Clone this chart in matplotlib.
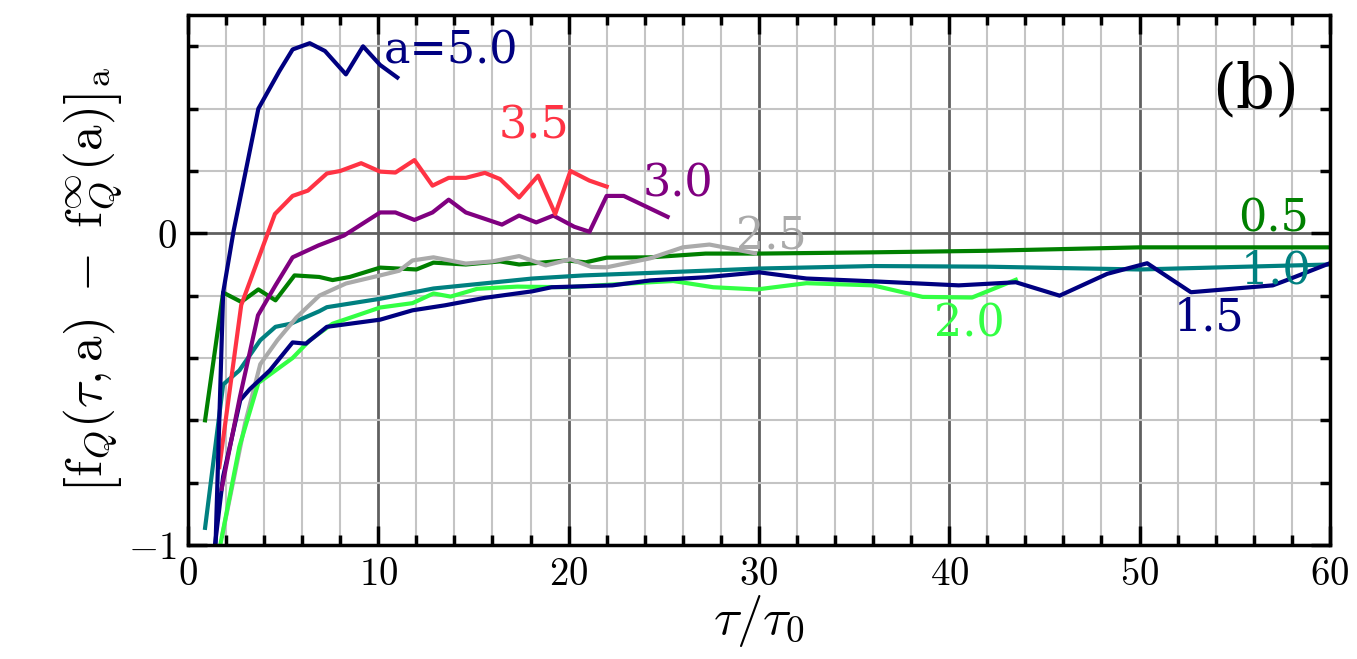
import matplotlib
matplotlib.use("Agg")
import matplotlib.pyplot as plt
from matplotlib.ticker import MultipleLocator

plt.rcParams['font.family'] = ['DejaVu Serif']
plt.rcParams['mathtext.fontset'] = 'cm'

# curve data: tau/tau0 and value, one pair per a
tau_a05 = [0.9, 1.85, 2.8, 3.7, 4.6, 5.6, 6.9, 7.6, 8.5, 10.1, 12.0, 12.9, 14.6, 16.4, 17.4,
           19.9, 20.9, 22.0, 24.3, 27.2, 30, 36, 42, 50, 60]
val_a05 = [-0.60, -0.19, -0.22, -0.18, -0.215, -0.135, -0.14, -0.15, -0.14, -0.11, -0.116, -0.094,
           -0.10, -0.09, -0.10, -0.087, -0.093, -0.078, -0.077, -0.065, -0.065, -0.061, -0.056,
           -0.045, -0.045]

tau_a10 = [0.9, 1.85, 2.7, 3.8, 4.6, 5.4, 6.9, 7.3, 10.1, 12.9, 15.5, 18.1, 20.8, 24.3, 30, 36,
           42, 50, 60]
val_a10 = [-0.945, -0.485, -0.44, -0.343, -0.30, -0.29, -0.25, -0.237, -0.21, -0.177, -0.161,
           -0.145, -0.135, -0.127, -0.113, -0.105, -0.107, -0.116, -0.10]

tau_a15 = [1.42, 1.85, 2.75, 3.25, 4.3, 5.5, 6.2, 7.3, 10.1, 11.8, 13.5, 15.6, 18.1, 19.1, 22.3,
           24.3, 27.2, 30.0, 32.5, 36.0, 40.5, 43.5, 45.8, 48.3, 50.4, 52.7, 57.0, 57.7, 60]
val_a15 = [-1.0, -0.78, -0.535, -0.50, -0.44, -0.35, -0.354, -0.30, -0.277, -0.247, -0.231, -0.207,
           -0.186, -0.173, -0.167, -0.151, -0.141, -0.125, -0.145, -0.154, -0.167, -0.157, -0.2,
           -0.13, -0.096, -0.189, -0.167, -0.151, -0.096]

tau_a20 = [1.7, 2.7, 3.7, 4.6, 5.5, 6.4, 7.6, 10.1, 11.8, 12.9, 13.8, 15.2, 17.3, 19.9, 24.3, 25.5,
           27.6, 29.9, 32.5, 36.0, 38.6, 41.2, 43.5]
val_a20 = [-1.0, -0.685, -0.48, -0.44, -0.40, -0.343, -0.29, -0.238, -0.224, -0.193, -0.203,
           -0.178, -0.171, -0.173, -0.157, -0.153, -0.173, -0.18, -0.16, -0.167, -0.204, -0.206,
           -0.149]

tau_a25 = [1.8, 2.4, 3.0, 3.8, 4.7, 5.7, 6.9, 8.3, 10.1, 11.1, 11.8, 12.9, 14.6, 16.0, 17.4, 18.8,
           20.1, 21.2, 22.0, 24.3, 26.0, 27.4, 29.8]
val_a25 = [-0.97, -0.79, -0.61, -0.42, -0.343, -0.27, -0.20, -0.161, -0.135, -0.12, -0.087, -0.077,
           -0.097, -0.09, -0.073, -0.103, -0.083, -0.108, -0.109, -0.08, -0.045, -0.036, -0.064]

tau_a30 = [1.77, 2.73, 3.68, 4.6, 5.5, 6.85, 8.2, 10.1, 10.9, 11.9, 12.85, 13.7, 14.6, 16.5, 17.4,
           18.3, 19.2, 20.3, 21.1, 22.0, 22.9, 25.2]
val_a30 = [-0.82, -0.525, -0.263, -0.167, -0.077, -0.039, -0.007, 0.067, 0.067, 0.043, 0.067, 0.108,
           0.067, 0.028, 0.057, 0.035, 0.057, 0.021, 0.005, 0.12, 0.12, 0.053]

tau_a35 = [1.65, 2.8, 3.86, 4.57, 5.5, 6.3, 7.3, 8.0, 9.1, 10.1, 10.9, 11.9, 12.85, 13.7, 14.6,
           15.6, 16.4, 17.4, 18.4, 19.3, 20.1, 21.1, 22.0]
val_a35 = [-0.75, -0.23, -0.055, 0.062, 0.12, 0.137, 0.192, 0.20, 0.225, 0.198, 0.195, 0.235, 0.153,
           0.178, 0.178, 0.194, 0.174, 0.115, 0.185, 0.062, 0.20, 0.169, 0.15]

tau_a50 = [1.45, 1.85, 2.4, 3.7, 4.8, 5.5, 6.4, 7.2, 8.3, 9.2, 10.1, 11.0]
val_a50 = [-1.0, -0.19, 0.008, 0.40, 0.52, 0.59, 0.61, 0.585, 0.51, 0.60, 0.54, 0.50]

x_ticks = [0, 10, 20, 30, 40, 50, 60]
y_ticks = [-1, 0]

navy = '#000080'
colors = {'0.5': '#008000', '1.0': '#008080', '1.5': navy, '2.0': '#33ff44',
          '2.5': '#aaaaaa', '3.0': '#800080', '3.5': '#ff3344', '5.0': navy}

fig = plt.figure(figsize=(13.57, 6.59), dpi=100)
ax = fig.add_axes([0.1385, 0.173, 0.8415, 0.804])

# grid: light every 2 / 0.2, dark every 10 / 1
for x in range(2, 60, 2):
    ax.axvline(x, color='#606060' if x % 10 == 0 else '#c4c4c4',
               lw=2.0 if x % 10 == 0 else 1.5, zorder=0)
for i in range(-4, 4):
    y = i * 0.2
    ax.axhline(y, color='#606060' if i == 0 else '#c4c4c4',
               lw=2.0 if i == 0 else 1.5, zorder=0)

lw = 3.0
ax.plot(tau_a05, val_a05, color=colors['0.5'], lw=lw)
ax.plot(tau_a10, val_a10, color=colors['1.0'], lw=lw)
ax.plot(tau_a25, val_a25, color=colors['2.5'], lw=lw)
ax.plot(tau_a20, val_a20, color=colors['2.0'], lw=lw)
ax.plot(tau_a15, val_a15, color=colors['1.5'], lw=lw)
ax.plot(tau_a30, val_a30, color=colors['3.0'], lw=lw)
ax.plot(tau_a35, val_a35, color=colors['3.5'], lw=lw)
ax.plot(tau_a50, val_a50, color=colors['5.0'], lw=lw)

fs = 32
ax.text(10.3, 0.585, 'a=5.0', color=colors['5.0'], fontsize=fs, va='center')
ax.text(16.3, 0.345, '3.5', color=colors['3.5'], fontsize=fs, va='center')
ax.text(23.9, 0.16, '3.0', color=colors['3.0'], fontsize=fs, va='center')
ax.text(28.8, -0.01, '2.5', color=colors['2.5'], fontsize=fs, va='center')
ax.text(55.2, 0.047, '0.5', color=colors['0.5'], fontsize=fs, va='center')
ax.text(55.3, -0.12, '1.0', color=colors['1.0'], fontsize=fs, va='center')
ax.text(51.8, -0.27, '1.5', color=colors['1.5'], fontsize=fs, va='center')
ax.text(39.2, -0.29, '2.0', color=colors['2.0'], fontsize=fs, va='center')
ax.text(53.8, 0.46, '(b)', color='black', fontsize=44, va='center')

ax.set_xlim(0, 60)
ax.set_ylim(-1, 0.7)
ax.set_xticks(x_ticks)
ax.set_xticklabels(['$%d$' % v for v in x_ticks], fontsize=28)
ax.set_yticks(y_ticks)
ax.set_yticklabels(['$%d$' % v for v in y_ticks], fontsize=28)
ax.xaxis.set_minor_locator(MultipleLocator(2))
ax.yaxis.set_minor_locator(MultipleLocator(0.2))
ax.tick_params(which='both', direction='in', top=True, right=True, width=2.5)
ax.tick_params(which='major', length=14, pad=8)
ax.tick_params(which='minor', length=7)
for s in ax.spines.values():
    s.set_linewidth(2.5)

ax.set_xlabel(r'$\tau/\tau_0$', fontsize=38, labelpad=0)
ax.set_ylabel(r'$\left[\mathrm{f}_Q(\tau,\mathrm{a})\ -\ \mathrm{f}^{\infty}_Q(\mathrm{a})\right]_\mathrm{a}$',
              fontsize=37, labelpad=2)

fig.savefig('out.png', dpi=100)
